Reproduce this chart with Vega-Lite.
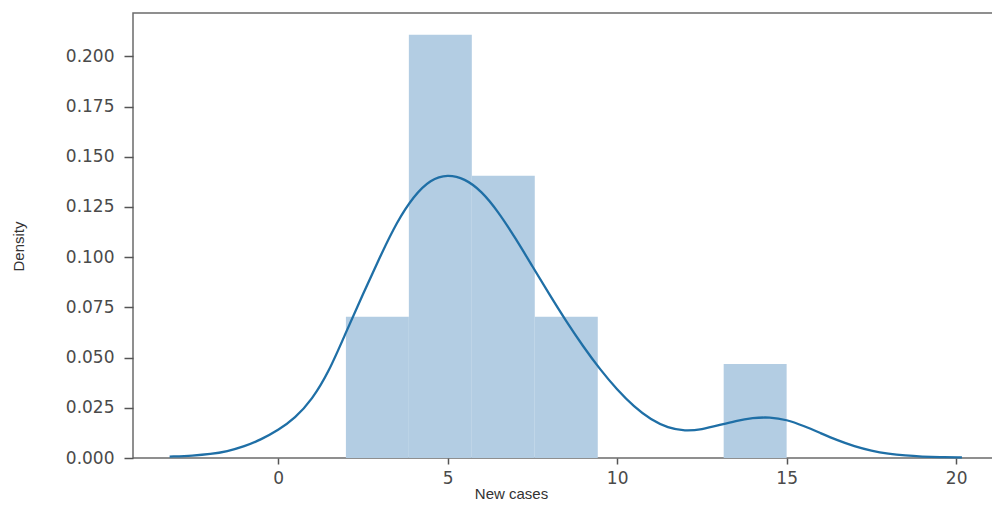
{
  "$schema": "https://vega.github.io/schema/vega-lite/v6.json",
  "autosize": "none",
  "padding": {"left": 133, "top": 13, "right": 0, "bottom": 48},
  "width": 874,
  "height": 445,
  "background": "white",
  "config": {
    "view": {"stroke": "#6b6b6b", "strokeWidth": 1.5},
    "axis": {
      "grid": false,
      "domain": false,
      "tickColor": "#555555",
      "tickWidth": 1.5,
      "labelFont": "DejaVu Sans",
      "labelFontSize": 17,
      "labelColor": "#4a4a4a",
      "titleFont": "Liberation Sans",
      "titleFontWeight": "normal",
      "titleFontSize": 15,
      "titleColor": "#333333"
    }
  },
  "datasets": {
    "hist": [
      {"bin_start": 2.0, "bin_end": 3.857, "density": 0.0703},
      {"bin_start": 3.857, "bin_end": 5.714, "density": 0.2108},
      {"bin_start": 5.714, "bin_end": 7.571, "density": 0.1405},
      {"bin_start": 7.571, "bin_end": 9.429, "density": 0.0703},
      {"bin_start": 9.429, "bin_end": 11.286, "density": 0},
      {"bin_start": 11.286, "bin_end": 13.143, "density": 0},
      {"bin_start": 13.143, "bin_end": 15.0, "density": 0.0468}
    ],
    "kde": [
      {"x": -3.2, "y": 0.0007},
      {"x": -2.5, "y": 0.0012},
      {"x": -2.0, "y": 0.0019},
      {"x": -1.5, "y": 0.0033},
      {"x": -1.0, "y": 0.0057},
      {"x": -0.5, "y": 0.0092},
      {"x": 0.0, "y": 0.0138},
      {"x": 0.5, "y": 0.0198},
      {"x": 1.0, "y": 0.029},
      {"x": 1.5, "y": 0.043},
      {"x": 2.0, "y": 0.0625},
      {"x": 2.5, "y": 0.0815},
      {"x": 3.0, "y": 0.1},
      {"x": 3.5, "y": 0.1175},
      {"x": 4.0, "y": 0.1305},
      {"x": 4.5, "y": 0.1388},
      {"x": 5.0, "y": 0.1412},
      {"x": 5.5, "y": 0.1392},
      {"x": 6.0, "y": 0.133},
      {"x": 6.5, "y": 0.1225},
      {"x": 7.0, "y": 0.1095},
      {"x": 7.5, "y": 0.0955},
      {"x": 8.0, "y": 0.0815},
      {"x": 8.5, "y": 0.068},
      {"x": 9.0, "y": 0.0555},
      {"x": 9.5, "y": 0.044},
      {"x": 10.0, "y": 0.034},
      {"x": 10.5, "y": 0.0255},
      {"x": 11.0, "y": 0.019},
      {"x": 11.5, "y": 0.015},
      {"x": 12.0, "y": 0.0134},
      {"x": 12.5, "y": 0.0142},
      {"x": 13.0, "y": 0.0163},
      {"x": 13.5, "y": 0.0185},
      {"x": 14.0, "y": 0.02},
      {"x": 14.5, "y": 0.0204},
      {"x": 15.0, "y": 0.0191},
      {"x": 15.5, "y": 0.016},
      {"x": 16.0, "y": 0.0124},
      {"x": 16.5, "y": 0.0088},
      {"x": 17.0, "y": 0.0058},
      {"x": 17.5, "y": 0.0036},
      {"x": 18.0, "y": 0.0021},
      {"x": 18.5, "y": 0.0012},
      {"x": 19.0, "y": 0.0007},
      {"x": 19.5, "y": 0.0004},
      {"x": 20.17, "y": 0.0003}
    ]
  },
  "layer": [
    {
      "data": {"name": "hist"},
      "mark": {"type": "rect", "fill": "#b3cde3", "stroke": null},
      "encoding": {
        "x": {
          "field": "bin_start",
          "type": "quantitative",
          "scale": {"domain": [-4.28, 21.5], "nice": false, "zero": false},
          "axis": {
            "values": [0, 5, 10, 15, 20],
            "format": "d",
            "tickSize": 6,
            "labelPadding": 6,
            "title": "New cases",
            "titleX": 378,
            "titleY": 28,
            "titleAnchor": "middle"
          }
        },
        "x2": {"field": "bin_end"},
        "y": {
          "field": "density",
          "type": "quantitative",
          "scale": {"domain": [0, 0.2216], "nice": false},
          "axis": {
            "values": [0, 0.025, 0.05, 0.075, 0.1, 0.125, 0.15, 0.175, 0.2],
            "format": ".3f",
            "tickSize": 9,
            "labelPadding": 10,
            "title": "Density",
            "titleX": -107,
            "titleY": 233,
            "titleAnchor": "middle"
          }
        },
        "y2": {"datum": 0}
      }
    },
    {
      "data": {"name": "kde"},
      "mark": {"type": "line", "color": "#1f6fa6", "strokeWidth": 2.3, "interpolate": "basis"},
      "encoding": {
        "x": {"field": "x", "type": "quantitative"},
        "y": {"field": "y", "type": "quantitative"}
      }
    }
  ]
}
